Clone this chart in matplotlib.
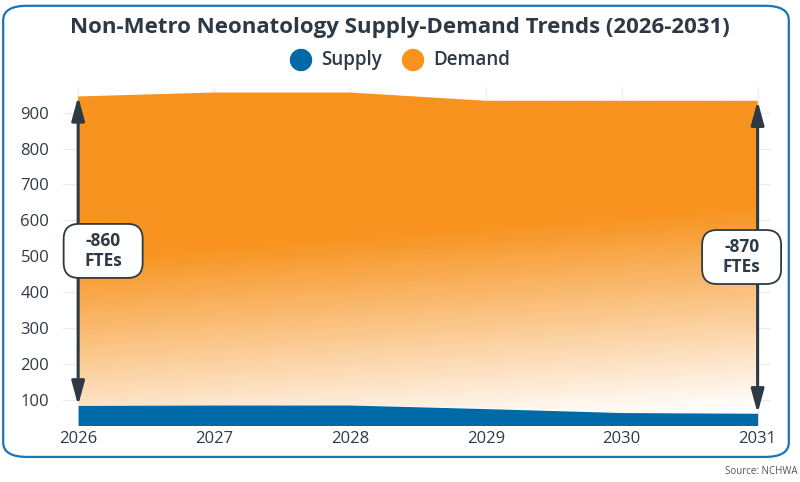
import matplotlib.pyplot as plt
import numpy as np
from matplotlib.patches import FancyBboxPatch, Circle
from matplotlib.colors import LinearSegmentedColormap
from matplotlib.transforms import ScaledTranslation

plt.rcParams['font.family'] = ['Open Sans', 'DejaVu Sans']

# ── data ─────────────────────────────────────────────────────────────────────
years = [2026, 2027, 2028, 2029, 2030, 2031]
supply = [85, 86, 86, 76, 65, 63]
demand = [945, 956, 956, 933, 933, 933]
gap_labels = ["-860\nFTEs", "-870\nFTEs"]

ORANGE = "#F7931E"
BLUE = "#0069A8"
DARK = "#2D3A45"

fig = plt.figure(figsize=(8, 4.82), dpi=100)

# rounded outer frame
frame = FancyBboxPatch((0.004, 0.052), 0.982, 0.936,
                       boxstyle="round,pad=0,rounding_size=0.03",
                       transform=fig.transFigure, fill=False,
                       edgecolor="#1A75B8", linewidth=1.6, zorder=0)
fig.patches.append(frame)

ax = fig.add_axes([0.079, 0.118, 0.885, 0.702])
ax.set_xlim(2025.89, 2031.1)
ax.set_ylim(30, 972)

# demand area with a gradient fill (orange top -> white bottom right)
poly = ax.fill_between(years, supply, demand, color="none", lw=0)
nx, ny = 200, 200
gx, gy = np.meshgrid(np.linspace(0, 1, nx), np.linspace(0, 1, ny))
t = np.clip((0.5 + 0.15 * gx - gy) / 0.6, 0, 1)  # 0 orange, 1 white
cmap = LinearSegmentedColormap.from_list("o", [ORANGE, "#FFFFFF"])
img = ax.imshow(t, cmap=cmap, vmin=0, vmax=1.0, origin="lower",
                extent=[2026, 2031, 30, 972], aspect="auto", zorder=1)
img.set_clip_path(poly.get_paths()[0], transform=ax.transData)

# supply area
ax.fill_between(years, 0, supply, color=BLUE, lw=0, zorder=2)

# grid and ticks
ax.set_yticks([100, 200, 300, 400, 500, 600, 700, 800, 900])
ax.set_xticks(years)
ax.grid(True, color="#EBEBEB", lw=0.8, zorder=0)
ax.set_axisbelow(True)
for s in ax.spines.values():
    s.set_visible(False)
ax.tick_params(length=0, labelsize=12, labelcolor=DARK)
ax.tick_params(axis="x", pad=4)
ax.tick_params(axis="y", pad=10)

# gap arrows + labels
for i, (idx, dx) in enumerate([(0, 0.25), (len(years) - 1, -0.16)]):
    x = years[idx]
    ax.annotate("", xy=(x, supply[idx]), xytext=(x, demand[idx]),
                arrowprops=dict(arrowstyle="<|-|>,head_length=1.1,head_width=0.3",
                                color=DARK, lw=2.2, mutation_scale=13,
                                shrinkA=0, shrinkB=0),
                zorder=4, annotation_clip=False)
    mid = (supply[idx] + demand[idx]) / 2
    trans = fig.dpi_scale_trans + ScaledTranslation(x, mid, ax.transData)
    box = FancyBboxPatch((-0.395 + dx, -0.27), 0.79, 0.54,
                         boxstyle="round,pad=0,rounding_size=0.15",
                         transform=trans, fc="white", ec=DARK, lw=1.3,
                         zorder=5, clip_on=False)
    ax.add_patch(box)
    ax.text(dx, 0, gap_labels[i], transform=trans,
            ha="center", va="center", fontsize=12.5, fontweight="bold",
            color=DARK, linespacing=1.2, zorder=6, clip_on=False)

# title and legend
fig.text(0.5, 0.942, "Non-Metro Neonatology Supply-Demand Trends (2026-2031)",
         ha="center", va="center", fontsize=16, fontweight="bold", color=DARK)
for cx, col, lab in [(301, BLUE, "Supply"), (413, ORANGE, "Demand")]:
    fig.patches.append(Circle((cx, 482 - 60), 10.5, color=col,
                              transform=None, figure=fig))
    fig.text((cx + 20) / 800, 0.8755, lab, ha="left", va="center",
             fontsize=13.5, fontweight="semibold", color=DARK)

fig.text(0.997, 0.022, "Source: NCHWA", ha="right", va="center",
         fontsize=7, color="#555555")

fig.savefig("out.png", dpi=100)
